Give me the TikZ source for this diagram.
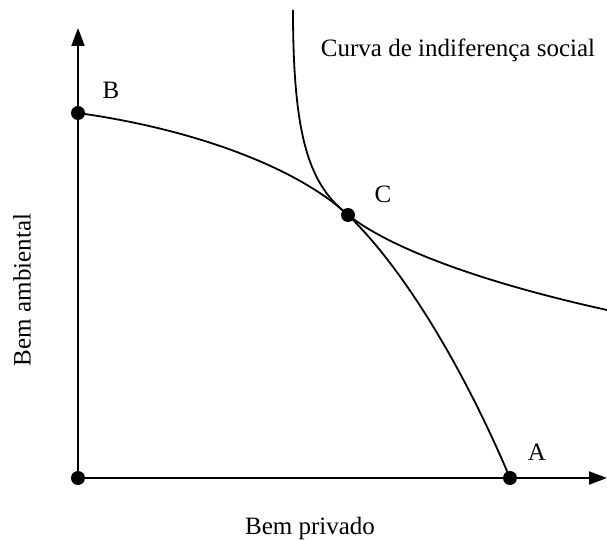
\documentclass[tikz,border=0pt]{standalone}
\usepackage{fontspec}
\setmainfont{Liberation Serif}
\usetikzlibrary{arrows.meta,positioning}

\begin{document}
\begin{tikzpicture}[
  x=0.5pt, y=-0.5pt,
  ax/.style={line width=1pt, -{Triangle[length=9pt,width=6.5pt]}},
  cv/.style={line width=0.9pt},
  pt/.style={circle, fill=black, inner sep=0pt, minimum size=7pt},
  lb/.style={font=\fontsize{12.5}{15}\selectfont}
]
  \useasboundingbox (0,0) rectangle (607,540);
  % axes
  \node[pt] (o) at (78,478) {};
  \coordinate (ytop) at (78,28);
  \coordinate (xend) at (607,478);
  \draw[ax] (o.center) -- (ytop);
  \draw[ax] (o.center) -- (xend);
  % points
  \node[pt] (b) at (78,113) {};
  \node[pt] (c) at (348,215) {};
  \node[pt] (a) at (510,478) {};
  \coordinate (ictop) at (293,10);
  \coordinate (icend) at (607,310);
  % production frontier
  \draw[cv] (b.center) .. controls (200,130) and (300,170) .. (c.center)
    .. controls (400,265) and (460,360) .. (a.center);
  % social indifference curve
  \draw[cv] (ictop) .. controls (293,140) and (310,185) .. (c.center)
    .. controls (390,248) and (480,282) .. (icend);
  % labels
  \node[lb] (lb) at (111,90) {B};
  \node[lb] (lc) at (383,194) {C};
  \node[lb] (la) at (537,452) {A};
  \node[lb] (lic) at (458,50) {Curva de indiferença social};
  \node[lb] (lx) at (310,528) {Bem privado};
  \node[lb, rotate=90] (ly) at (22,290) {Bem ambiental};
\end{tikzpicture}
\end{document}
